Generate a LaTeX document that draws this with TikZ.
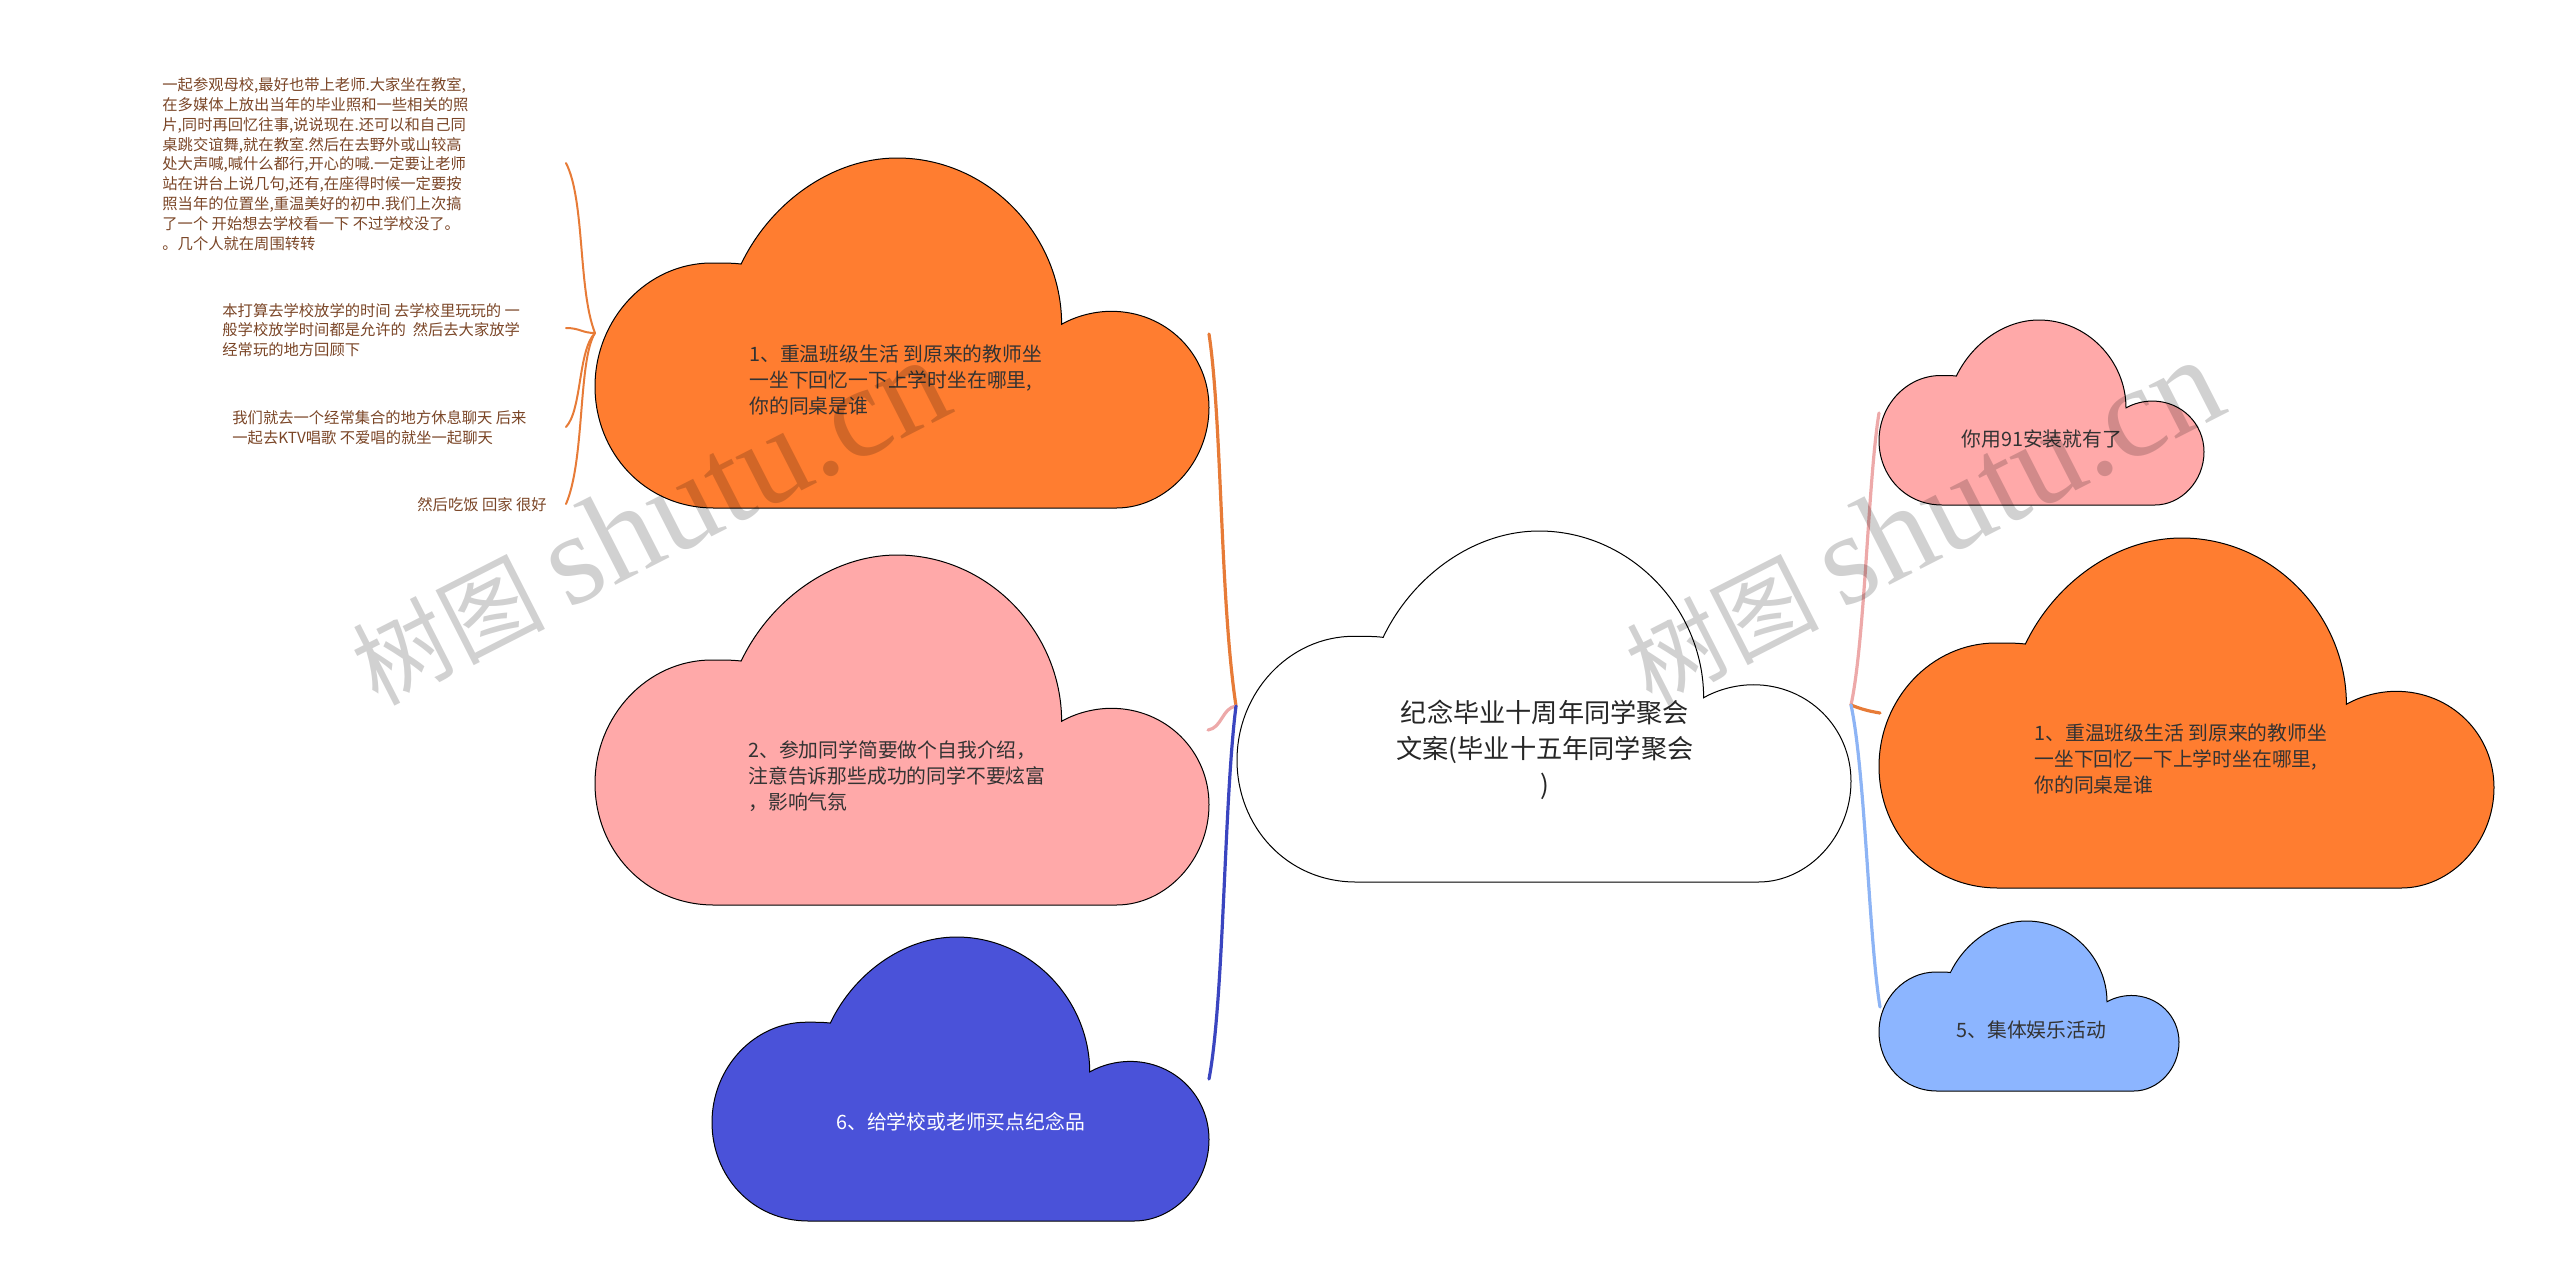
\documentclass[tikz,border=0pt]{standalone}
\usepackage{fontspec}
\setmainfont{Noto Sans CJK SC}
\newfontfamily\markfont{Liberation Serif}
\definecolor{cloudorange}{HTML}{FF7D30}
\definecolor{cloudpink}{HTML}{FFA9A9}
\definecolor{cloudblue}{HTML}{4A52D9}
\definecolor{cloudsky}{HTML}{8CB5FF}
\definecolor{lineorange}{HTML}{E77B37}
\definecolor{linepink}{HTML}{EDA9A9}
\definecolor{lineblue}{HTML}{3A45C0}
\definecolor{linesky}{HTML}{8DB4F5}
\definecolor{leafbrown}{HTML}{7A4526}
\tikzset{
	cloudtext/.style={anchor=west,align=left,inner sep=0pt,text=black!80,font=\fontsize{9.9}{13}\selectfont},
	leaftext/.style={anchor=west,align=left,inner sep=0pt,text=leafbrown,font=\fontsize{7.65}{9.9}\selectfont},
	branch/.style={line width=1.6pt,line cap=round},
	twig/.style={line width=1pt,lineorange,line cap=round},
	watermark/.style={rotate=27,inner sep=0pt,text=black,opacity=0.18,font=\fontsize{48}{60}\selectfont}
}
\newcommand{\cloudbox}[5]{
	\begin{scope}[shift={(#1,#2)},xscale=#3,yscale=#4]
		\draw[fill=#5,line width=0.5pt] (.194,1) .. controls (.08,1) and (0,.84) .. (0,.653)
			.. controls (0,.46) and (.085,.30) .. (.19,.30)
			.. controls (.21,.30) and (.225,.30) .. (.238,.303)
			.. controls (.285,.13) and (.385,0) .. (.492,0)
			.. controls (.64,0) and (.76,.22) .. (.76,.475)
			.. controls (.785,.45) and (.815,.438) .. (.841,.438)
			.. controls (.93,.438) and (1,.56) .. (1,.713)
			.. controls (1,.87) and (.93,1) .. (.849,1) -- cycle;
	\end{scope}
}
\begin{document}
\begin{tikzpicture}[x=0.5pt,y=-0.5pt]
	\useasboundingbox (0,0) rectangle (2560,1287);
	
	\cloudbox{1237}{531}{614}{351}{white}
	\cloudbox{595}{158}{614}{350}{cloudorange}
	\cloudbox{595}{555}{614}{350}{cloudpink}
	\cloudbox{712}{937}{497}{284}{cloudblue}
	\cloudbox{1879}{320}{325}{185}{cloudpink}
	\cloudbox{1879}{538}{615}{350}{cloudorange}
	\cloudbox{1879}{921}{300}{170}{cloudsky}
	
	\node[anchor=center,align=center,inner sep=0pt,text=black!85,font=\fontsize{13.1}{18}\selectfont] (root) at (1545,750) {纪念毕业十周年同学聚会\\文案(毕业十五年同学聚会\\)};
	\node[cloudtext] (left1) at (749,380) {1、重温班级生活 到原来的教师坐\\一坐下回忆一下上学时坐在哪里,\\你的同桌是谁};
	\node[cloudtext] (left2) at (748,776) {2、参加同学简要做个自我介绍，\\注意告诉那些成功的同学不要炫富\\，影响气氛};
	\node[cloudtext,text=white] (left6) at (836,1122) {6、给学校或老师买点纪念品};
	\node[cloudtext] (right1) at (1961,439) {你用91安装就有了};
	\node[cloudtext] (right2) at (2034,759) {1、重温班级生活 到原来的教师坐\\一坐下回忆一下上学时坐在哪里,\\你的同桌是谁};
	\node[cloudtext] (right5) at (1956,1030) {5、集体娱乐活动};
	
	\node[leaftext] (leaf1) at (162,164) {一起参观母校,最好也带上老师.大家坐在教室,\\在多媒体上放出当年的毕业照和一些相关的照\\片,同时再回忆往事,说说现在.还可以和自己同\\桌跳交谊舞,就在教室.然后在去野外或山较高\\处大声喊,喊什么都行,开心的喊.一定要让老师\\站在讲台上说几句,还有,在座得时候一定要按\\照当年的位置坐,重温美好的初中.我们上次搞\\了一个 开始想去学校看一下 不过学校没了。\\。几个人就在周围转转};
	\node[leaftext] (leaf2) at (222,330) {本打算去学校放学的时间 去学校里玩玩的 一\\般学校放学时间都是允许的\ \ 然后去大家放学\\经常玩的地方回顾下};
	\node[leaftext] (leaf3) at (232,428) {我们就去一个经常集合的地方休息聊天 后来\\一起去KTV唱歌 不爱唱的就坐一起聊天};
	\node[leaftext] (leaf4) at (417,505) {然后吃饭 回家 很好};
	
	\coordinate (hubL) at (1236,706);
	\coordinate (hubR) at (1851,705);
	\coordinate (hubT) at (595,333);
	\coordinate (endL1) at (1209,334);
	\coordinate (endL2) at (1208,730);
	\coordinate (endL6) at (1209,1079);
	\coordinate (endR1) at (1879,413);
	\coordinate (endR2) at (1880,713);
	\coordinate (endR5) at (1880,1007);
	\coordinate (endT1) at (566,163);
	\coordinate (endT2) at (566,328);
	\coordinate (endT3) at (566,427);
	\coordinate (endT4) at (566,504);
	
	\draw[branch,lineorange] (hubL) .. controls +(-16,-106) and +(13,86) .. (endL1);
	\draw[branch,linepink] (hubL) .. controls +(-14,2) and +(14,-2) .. (endL2);
	\draw[branch,lineblue] (hubL) .. controls +(-12,94) and +(15,-79) .. (endL6);
	\draw[branch,linepink] (hubR) .. controls +(14,-65) and +(-11,67) .. (endR1);
	\draw[branch,lineorange] (hubR) .. controls +(10,4) and +(-12,-2) .. (endR2);
	\draw[branch,linesky] (hubR) .. controls +(14,65) and +(-11,-67) .. (endR5);
	
	\draw[twig] (endT1) .. controls +(19,37) and +(-17,-43) .. (hubT);
	\draw[twig] (endT2) .. controls +(14,0) and +(-13,0) .. (hubT);
	\draw[twig] (endT3) .. controls +(16,-17) and +(-17,17) .. (hubT);
	\draw[twig] (endT4) .. controls +(19,-44) and +(-17,27) .. (hubT);
	
	\node[watermark] (mark1) at (649,522) {树图 {\markfont\fontsize{65}{60}\selectfont shutu.cn}};
	\node[watermark] (mark2) at (1923,522) {树图 {\markfont\fontsize{65}{60}\selectfont shutu.cn}};
\end{tikzpicture}
\end{document}
